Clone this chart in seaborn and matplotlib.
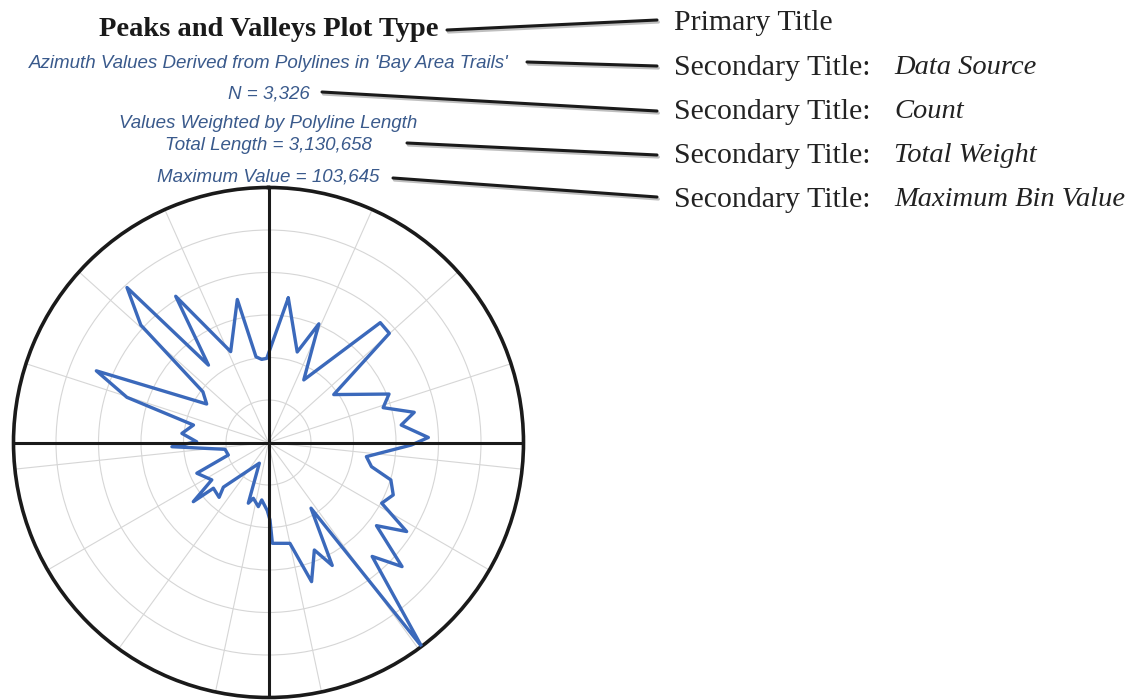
import numpy as np
import matplotlib
matplotlib.use("Agg")
import matplotlib.pyplot as plt
import matplotlib.patheffects as pe
from matplotlib.lines import Line2D
import pandas as pd
import seaborn as sns

# ---------------- data ----------------
azimuth_deg = [7.8, 17.6, 23.0, 29.4, 43.0, 47.9, 53.7, 68.1, 73.1, 78.3, 82.5, 88.2,
               91.0, 98.2, 103.2, 107.0, 112.8, 118.2, 122.8, 127.6, 132.9, 137.7,
               143.1, 147.1, 152.6, 156.9, 162.8, 168.0, 177.8, 178.9, 181.0, 186.7,
               189.0, 195.2, 198.4, 203.9, 225.3, 222.0, 230.3, 231.8, 236.6, 246.8,
               252.7, 261.1, 267.5, 270.6, 276.0, 283.1, 287.7, 292.6, 301.9, 307.7,
               312.6, 317.6, 322.2, 327.6, 337.4, 347.7, 351.7, 355.3, 358.8]
weighted_length = [59300, 38600, 52400, 29200, 66600, 66200, 32900, 52800, 48700, 60500,
                   54400, 65000, 58100, 40200, 43000, 52000, 55000, 52200, 66800, 55400,
                   74100, 62600, 103645, 31800, 56300, 47500, 59200, 41900, 41000, 31500,
                   27700, 23500, 26400, 23500, 26000, 9200, 25800, 30000, 29100, 38900,
                   27600, 31700, 17100, 17900, 39300, 29200, 35400, 31300, 60400, 75800,
                   29600, 33700, 70500, 85300, 39800, 70400, 40000, 59500, 35200, 33900,
                   34200]
max_value = 103645

title = "Peaks and Valleys Plot Type"
subtitles = ["Azimuth Values Derived from Polylines in 'Bay Area Trails'",
             "N = 3,326",
             "Values Weighted by Polyline Length",
             "Total Length = 3,130,658",
             "Maximum Value = 103,645"]
callout_main = ["Primary Title", "Secondary Title:", "Secondary Title:",
                "Secondary Title:", "Secondary Title:"]
callout_italic = ["", "Data Source", "Count", "Total Weight", "Maximum Bin Value"]

# ---------------- figure ----------------
sns.set_theme(style="white")
plt.rcParams['font.family'] = ['DejaVu Sans']

W, H = 1147, 700
fig = plt.figure(figsize=(W / 100, H / 100), dpi=100, facecolor='white')

cx, cy, R = 268.5, 442.5, 255
ax = fig.add_axes([(cx - R) / W, (H - cy - R) / H, 2 * R / W, 2 * R / H],
                  projection='polar')
ax.set_facecolor('white')
ax.set_theta_zero_location('N')
ax.set_theta_direction(-1)

theta = np.deg2rad(azimuth_deg + azimuth_deg[:1])
rvals = weighted_length + weighted_length[:1]
df = pd.DataFrame({'theta': theta, 'r': rvals})
sns.lineplot(data=df, x='theta', y='r', sort=False, estimator=None,
             color='#3b69bb', lw=2.4, ax=ax, zorder=3)

for ang in [0, 90, 180, 270]:
    ax.plot([np.deg2rad(ang)] * 2, [0, max_value], color='#1a1a1a', lw=2.2,
            zorder=4, solid_capstyle='butt')

ax.set_ylim(0, max_value)
ax.set_thetagrids(np.arange(0, 360, 24), labels=[])
ax.set_rgrids(max_value * np.arange(1, 6) / 6, labels=[])
ax.grid(True, color='#d6d6d6', lw=0.8)
ax.spines['polar'].set_color('#1a1a1a')
ax.spines['polar'].set_linewidth(2.6)
ax.set_xlabel('')
ax.set_ylabel('')

# ---------------- titles ----------------
def fy(y):
    return 1 - y / H

fig.text(cx / W, fy(29), title, ha='center', va='center', fontsize=20.5,
         fontweight='bold', family='Liberation Serif', color='#1a1a1a')
sub_y = [64, 94, 124, 145, 177]
for s, y in zip(subtitles, sub_y):
    fig.text(cx / W, fy(y), s, ha='center', va='center', fontsize=13.5,
             style='italic', family='Liberation Sans', color='#3a5a8c')

# callout labels on the right
lab_y = [23, 68, 112, 156, 200]
for m, it, y in zip(callout_main, callout_italic, lab_y):
    fig.text(674 / W, fy(y), m, ha='left', va='center', fontsize=21.5,
             family='Liberation Serif', color='#222222')
    if it:
        fig.text(894 / W, fy(y), it, ha='left', va='center', fontsize=20.5,
                 style='italic', family='Liberation Serif', color='#222222')

# callout connector lines
segs = [((447, 30), (657, 20)), ((527, 62), (657, 66)), ((322, 92), (657, 111)),
        ((407, 143), (657, 155)), ((393, 178), (657, 197))]
for (x0, y0), (x1, y1) in segs:
    ln = Line2D([x0 / W, x1 / W], [fy(y0), fy(y1)], transform=fig.transFigure,
                color='#1a1a1a', lw=2.2,
                path_effects=[pe.SimpleLineShadow(offset=(1, -1.5), shadow_color='gray', alpha=0.5),
                              pe.Normal()])
    fig.add_artist(ln)

fig.savefig('out.png', dpi=100, facecolor='white')
